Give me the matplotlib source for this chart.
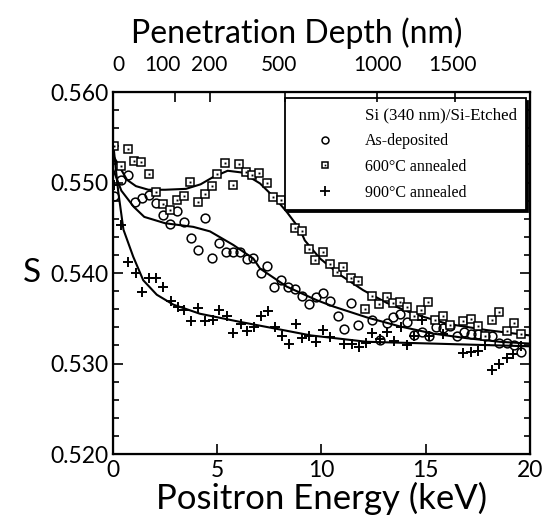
import matplotlib
matplotlib.use("Agg")
import matplotlib.pyplot as plt
from matplotlib.lines import Line2D
from matplotlib.ticker import MultipleLocator, FixedLocator, NullFormatter

# As-deposited (open circles)
asdep_e = [0.05, 0.37, 0.72, 1.07, 1.41, 1.74, 2.06, 2.41, 2.73, 3.06, 3.41, 3.73, 4.06,
           4.41, 4.75, 5.07, 5.42, 5.77, 6.09, 6.41, 6.73, 7.08, 7.40, 7.72, 8.07, 8.39,
           8.74, 9.06, 9.39, 9.74, 10.06, 10.41, 10.78, 11.09, 11.41, 11.76, 12.41, 12.81,
           13.13, 13.44, 13.76, 14.12, 14.44, 14.81, 15.16, 15.49, 15.84, 16.16, 16.48,
           16.83, 17.16, 17.52, 17.84, 18.19, 18.53, 18.88, 19.23, 19.55]
asdep_s = [0.5485, 0.5503, 0.5508, 0.5478, 0.5483, 0.5486, 0.5477, 0.5464, 0.5454, 0.5469,
           0.5456, 0.5439, 0.5425, 0.5461, 0.5417, 0.5433, 0.5423, 0.5423, 0.5423, 0.5416,
           0.5417, 0.5400, 0.5408, 0.5384, 0.5392, 0.5384, 0.5382, 0.5375, 0.5366, 0.5374,
           0.5378, 0.5369, 0.5352, 0.5338, 0.5367, 0.5343, 0.5348, 0.5326, 0.5345, 0.5351,
           0.5355, 0.5346, 0.5331, 0.5335, 0.5330, 0.5340, 0.5339, 0.5341, 0.5330, 0.5335,
           0.5333, 0.5333, 0.5330, 0.5330, 0.5323, 0.5323, 0.5320, 0.5313]

# 600 C annealed (dotted squares)
a600_e = [0.05, 0.37, 0.72, 1.01, 1.36, 1.73, 2.06, 2.41, 2.73, 3.06, 3.41, 3.69, 4.06,
          4.40, 4.75, 5.00, 5.37, 5.74, 6.06, 6.36, 6.68, 7.02, 7.37, 7.69, 8.07, 8.73,
          9.05, 9.39, 9.70, 10.06, 10.41, 10.74, 11.05, 11.42, 11.75, 12.09, 12.42, 12.77,
          13.13, 13.44, 13.76, 14.09, 14.44, 14.79, 15.12, 15.46, 15.81, 16.16, 16.80,
          17.16, 17.51, 17.84, 18.18, 18.53, 18.88, 19.23, 19.55]
a600_s = [0.5540, 0.5518, 0.5537, 0.5524, 0.5523, 0.5509, 0.5490, 0.5476, 0.5470, 0.5481,
          0.5485, 0.5501, 0.5478, 0.5487, 0.5496, 0.5509, 0.5522, 0.5497, 0.5520, 0.5512,
          0.5508, 0.5511, 0.5499, 0.5484, 0.5481, 0.5450, 0.5446, 0.5427, 0.5414, 0.5423,
          0.5410, 0.5401, 0.5407, 0.5394, 0.5391, 0.5360, 0.5375, 0.5366, 0.5373, 0.5367,
          0.5368, 0.5362, 0.5352, 0.5359, 0.5368, 0.5348, 0.5352, 0.5343, 0.5347, 0.5349,
          0.5342, 0.5330, 0.5348, 0.5357, 0.5336, 0.5345, 0.5333]

# 900 C annealed (crosses)
a900_e = [0.05, 0.37, 0.73, 1.09, 1.41, 1.74, 2.06, 2.38, 2.77, 3.10, 3.42, 3.74, 4.09,
          4.43, 4.78, 5.10, 5.45, 5.77, 6.12, 6.41, 6.76, 7.08, 7.42, 7.76, 8.09, 8.43,
          8.78, 9.08, 9.42, 9.74, 10.09, 10.41, 11.08, 11.45, 11.80, 12.13, 12.41, 12.81,
          13.16, 13.48, 13.80, 14.12, 14.45, 14.81, 15.16, 15.84, 16.80, 17.16, 17.52,
          17.84, 18.18, 18.53, 18.88, 19.20, 19.55]
a900_s = [0.5497, 0.5453, 0.5412, 0.5400, 0.5379, 0.5394, 0.5395, 0.5384, 0.5369, 0.5362,
          0.5359, 0.5347, 0.5361, 0.5347, 0.5348, 0.5359, 0.5352, 0.5334, 0.5344, 0.5336,
          0.5340, 0.5352, 0.5358, 0.5340, 0.5330, 0.5322, 0.5344, 0.5328, 0.5330, 0.5324,
          0.5337, 0.5329, 0.5322, 0.5322, 0.5318, 0.5323, 0.5334, 0.5327, 0.5335, 0.5325,
          0.5340, 0.5320, 0.5330, 0.5348, 0.5330, 0.5333, 0.5312, 0.5313, 0.5314, 0.5320,
          0.5293, 0.5300, 0.5306, 0.5311, 0.5319]

# fitted curves
fit_asdep_e = [0.0, 0.4, 1.0, 1.5, 2.5, 3.85, 4.65, 5.77, 6.73, 7.05, 8.33, 9.0, 9.77,
               10.57, 12.17, 13.76, 15.36, 16.96, 18.56, 20.0]
fit_asdep_s = [0.5515, 0.5491, 0.5473, 0.5462, 0.5455, 0.5451, 0.5446, 0.5431, 0.5416,
               0.5405, 0.5385, 0.5378, 0.5370, 0.5363, 0.5351, 0.5341, 0.5333, 0.5328,
               0.5324, 0.5322]
fit_a600_e = [0.0, 0.3, 0.67, 1.1, 1.7, 2.5, 3.5, 4.2, 4.8, 5.5, 6.2, 7.05, 7.8, 8.35,
              8.97, 9.2, 9.93, 10.89, 12.0, 13.13, 14.4, 16.0, 17.9, 20.0]
fit_a600_s = [0.5530, 0.5518, 0.5503, 0.5496, 0.5492, 0.5492, 0.5493, 0.5498, 0.5506,
              0.5513, 0.5511, 0.5499, 0.5482, 0.5467, 0.5448, 0.5436, 0.5416, 0.5398,
              0.5381, 0.5367, 0.5355, 0.5344, 0.5337, 0.5331]
fit_a900_e = [0.0, 0.25, 0.5, 0.97, 1.45, 2.1, 2.9, 4.17, 6.09, 7.69, 9.5, 12.17,
              15.36, 20.0]
fit_a900_s = [0.5545, 0.5490, 0.5448, 0.5418, 0.5392, 0.5376, 0.5365, 0.5355, 0.5346,
              0.5339, 0.5331, 0.5324, 0.5322, 0.5319]

# top axis: penetration depth tick marks and where their labels sit (in keV)
depth_tick_e = [0.0, 2.97, 4.65, 8.25, 12.66, 16.4]
depth_label_e = [0.25, 2.35, 4.6, 7.95, 12.7, 16.3]
depth_labels = ['0', '100', '200', '500', '1000', '1500']

sans = 'Lato'
serif = 'Liberation Serif'

fig = plt.figure(figsize=(5.6, 5.27), dpi=100)
ax = fig.add_axes([0.2018, 0.1385, 0.7446, 0.6869])

# curves
for e, s in [(fit_asdep_e, fit_asdep_s), (fit_a600_e, fit_a600_s), (fit_a900_e, fit_a900_s)]:
    ax.plot(e, s, color='black', lw=1.5, zorder=2)

# data points
ax.plot(asdep_e, asdep_s, ls='none', marker='o', ms=6.3, mfc='none', mec='black',
        mew=1.1, zorder=3)
ax.plot(a600_e, a600_s, ls='none', marker='s', ms=5.8, mfc='white', mec='black',
        mew=1.1, zorder=4)
ax.plot(a600_e, a600_s, ls='none', marker='s', ms=1.4, mfc='black', mec='black',
        mew=0, zorder=5)
ax.plot(a900_e, a900_s, ls='none', marker='+', ms=7.5, mec='black', mew=1.4, zorder=3)

ax.set_xlim(0, 20)
ax.set_ylim(0.520, 0.560)
ax.set_xticks([0, 5, 10, 15, 20])
ax.set_yticks([0.520, 0.530, 0.540, 0.550, 0.560])
ax.set_yticklabels(['0.520', '0.530', '0.540', '0.550', '0.560'])
ax.yaxis.set_minor_locator(MultipleLocator(0.002))
ax.tick_params(axis='both', which='both', direction='in', width=1.2)
ax.tick_params(axis='y', which='major', length=7, right=True, labelsize=16.5, pad=3)
ax.tick_params(axis='y', which='minor', length=4, right=True)
ax.tick_params(axis='x', which='major', length=7, top=False, labelsize=16.5, pad=4)
for lab in ax.get_xticklabels() + ax.get_yticklabels():
    lab.set_fontfamily(sans)
for sp in ax.spines.values():
    sp.set_linewidth(1.6)

ax.set_xlabel('Positron Energy (keV)', fontsize=25, fontfamily=sans, labelpad=1)
ax.set_ylabel('S', fontsize=24, fontfamily=sans, rotation=0, va='center')
ax.yaxis.set_label_coords(-0.195, 0.5)

# top axis: tick marks as major ticks, labels on invisible minor ticks
top = ax.twiny()
top.set_xlim(0, 20)
top.xaxis.set_major_locator(FixedLocator(depth_tick_e))
top.xaxis.set_major_formatter(NullFormatter())
top.xaxis.set_minor_locator(FixedLocator(depth_label_e))
top.set_xticklabels(depth_labels, minor=True)
top.tick_params(axis='x', which='major', direction='in', length=7, width=1.2)
top.tick_params(axis='x', which='minor', length=0, labelsize=15, pad=12)
for lab in top.get_xticklabels(minor=True):
    lab.set_fontfamily(sans)
top.set_xlabel('Penetration Depth (nm)', fontsize=23, fontfamily=sans)
top.xaxis.set_label_coords(0.44, 1.135)

# legend
title_h = Line2D([], [], ls='none')
h_asdep = Line2D([], [], ls='none', marker='o', ms=5, mfc='none', mec='black', mew=1.1)
h_sq = Line2D([], [], ls='none', marker='s', ms=5, mfc='white', mec='black', mew=1.1)
h_dot = Line2D([], [], ls='none', marker='s', ms=1.2, mfc='black', mew=0)
h_900 = Line2D([], [], ls='none', marker='+', ms=7, mec='black', mew=1.3)
leg = ax.legend([title_h, h_asdep, (h_sq, h_dot), h_900],
                ['Si (340 nm)/Si-Etched', 'As-deposited', '600°C annealed', '900°C annealed'],
                loc='upper right', bbox_to_anchor=(1.005, 1.0), borderaxespad=0.4,
                frameon=True, fancybox=False, shadow={'color': 'black', 'alpha': 1},
                framealpha=1, edgecolor='black', handlelength=3.9, handletextpad=0.56,
                labelspacing=0.62, borderpad=0.55, prop={'family': serif, 'size': 11.5})
leg.get_frame().set_linewidth(1.3)
leg.get_texts()[0].set_fontsize(12.2)

fig.savefig('out.png', dpi=100)
